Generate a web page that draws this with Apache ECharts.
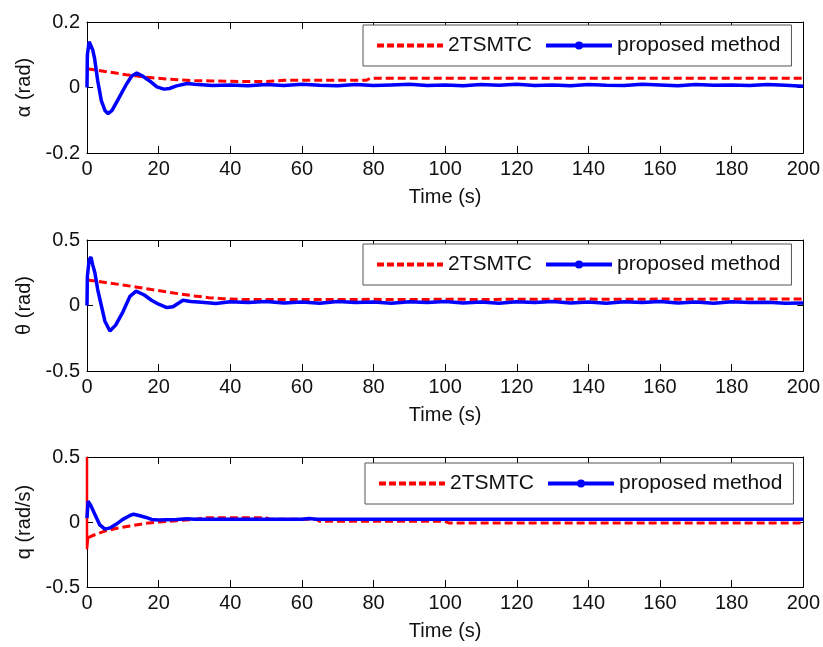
<!DOCTYPE html>
<html>
<head>
<meta charset="utf-8">
<script src="https://cdn.jsdelivr.net/npm/echarts@6/dist/echarts.min.js"></script>
<style>
html,body{margin:0;padding:0;background:#fff;}
#c{width:823px;height:647px;}
</style>
</head>
<body>
<div id="c"></div>
<script>
// ---- Data ----
var seriesNames = ['2TSMTC', 'proposed method'];
var xTicks = [0, 20, 40, 60, 80, 100, 120, 140, 160, 180, 200];

// alpha (rad)
var alphaRedT = [0, 2, 5, 8, 11, 14, 17, 20, 23, 26, 30, 35, 40, 45, 50, 53, 55, 60, 70, 78, 79, 90, 110, 130, 150, 170, 190, 200];
var alphaRedV = [0.057, 0.054, 0.049, 0.044, 0.039, 0.035, 0.031, 0.028, 0.025, 0.023, 0.021, 0.020, 0.019, 0.018, 0.018, 0.020, 0.022, 0.022, 0.022, 0.022, 0.028, 0.028, 0.028, 0.028, 0.028, 0.028, 0.028, 0.028];
var alphaBlueT = [0, 0.1, 0.6, 1.1, 1.6, 2.1, 3, 4, 5, 5.9, 7, 9, 11, 12.5, 13.9, 15.5, 17.5, 19.5, 21.5, 23, 25, 28, 30,
  35, 40, 45, 50, 55, 60, 65, 70, 75, 80, 85, 90, 95, 100, 105, 110, 115, 120, 125, 130, 135, 140, 145, 150, 155, 160, 165, 170, 175, 180, 185, 190, 195, 200];
var alphaBlueV = [0, 0.10, 0.14, 0.135, 0.115, 0.09, 0.02, -0.04, -0.07, -0.08, -0.07, -0.03, 0.01, 0.035, 0.044, 0.035, 0.02, 0.002, -0.005, -0.003, 0.005, 0.012, 0.010,
  0.006, 0.008, 0.005, 0.009, 0.006, 0.010, 0.007, 0.005, 0.009, 0.006, 0.008, 0.010, 0.006, 0.008, 0.005, 0.009, 0.007, 0.010, 0.006, 0.008, 0.005, 0.009, 0.007, 0.006, 0.010, 0.008, 0.005, 0.009, 0.007, 0.008, 0.006, 0.009, 0.007, 0.004];

// theta (rad)
var thetaRedT = [0, 3, 6, 10, 14, 18, 22, 26, 30, 34, 38, 42, 50, 60, 70, 80, 90, 100, 110, 120, 130, 140, 150, 160, 170, 180, 190, 200];
var thetaRedV = [0.195, 0.185, 0.172, 0.157, 0.140, 0.122, 0.105, 0.088, 0.073, 0.060, 0.052, 0.047, 0.045, 0.046, 0.045, 0.047, 0.045, 0.048, 0.046, 0.048, 0.047, 0.049, 0.047, 0.049, 0.048, 0.050, 0.049, 0.050];
var thetaBlueT = [0, 0.1, 0.6, 1.1, 1.6, 2.2, 3, 4, 5, 6.4, 8, 10, 12, 13.7, 16, 18, 20, 22.3, 24, 26.8, 29,
  32, 36, 40, 45, 50, 55, 60, 65, 70, 75, 80, 85, 90, 95, 100, 105, 110, 115, 120, 125, 130, 135, 140, 145, 150, 155, 160, 165, 170, 175, 180, 185, 190, 195, 200];
var thetaBlueV = [0, 0.22, 0.35, 0.37, 0.31, 0.25, 0.12, 0.0, -0.12, -0.195, -0.15, -0.05, 0.07, 0.11, 0.08, 0.04, 0.01, -0.016, -0.01, 0.04, 0.03,
  0.025, 0.015, 0.028, 0.022, 0.030, 0.020, 0.027, 0.018, 0.030, 0.022, 0.026, 0.018, 0.028, 0.022, 0.030, 0.020, 0.026, 0.018, 0.028, 0.022, 0.030, 0.020, 0.026, 0.018, 0.028, 0.022, 0.030, 0.020, 0.026, 0.018, 0.028, 0.022, 0.025, 0.018, 0.020];

// q (rad/s)
var qRedSpikeT = [0, 0, 0.3];
var qRedSpikeV = [0.5, -0.21, -0.12];
var qRedT = [0.3, 2, 5, 8, 12, 16, 20, 25, 30, 33, 50, 51, 64, 65, 100, 101, 200];
var qRedV = [-0.12, -0.10, -0.07, -0.05, -0.03, -0.012, 0.0, 0.01, 0.02, 0.032, 0.032, 0.022, 0.022, 0.005, 0.005, -0.007, -0.007];
var qBlueT = [0, 0.3, 1, 1.5, 2.5, 3.5, 5, 6.5, 8, 10, 12, 13, 14.5, 16.5, 18, 20, 22, 25, 28, 30, 40, 60, 62, 64, 100, 140, 200];
var qBlueV = [0.03, 0.16, 0.13, 0.10, 0.04, -0.02, -0.055, -0.045, -0.02, 0.02, 0.05, 0.06, 0.05, 0.035, 0.02, 0.015, 0.018, 0.02, 0.025, 0.021, 0.022, 0.022, 0.026, 0.022, 0.022, 0.022, 0.022];

function zip(t, v) { return t.map(function (x, i) { return [x, v[i]]; }); }

var FONT = "'Liberation Sans', Arial, Helvetica, sans-serif";
var gridTops = [22, 240, 457];
var gridHeights = [131, 131, 130];
var yNames = ['\u03b1 (rad)', '\u03b8 (rad)', 'q (rad/s)'];
var yLims = [[-0.2, 0.2, 0.2], [-0.5, 0.5, 0.5], [-0.5, 0.5, 0.5]];
var legendTops = [25, 244, 463];
var legendLefts = [363, 363, 365];
var dataSets = [
  [zip(alphaRedT, alphaRedV), zip(alphaBlueT, alphaBlueV)],
  [zip(thetaRedT, thetaRedV), zip(thetaBlueT, thetaBlueV)],
  [zip(qRedT, qRedV), zip(qBlueT, qBlueV)]
];

var grids = [], xAxes = [], yAxes = [], series = [], legends = [];
for (var k = 0; k < 3; k++) {
  grids.push({ left: 87, width: 717, top: gridTops[k], height: gridHeights[k], containLabel: false });
  var axLine = { show: true, onZero: false, lineStyle: { color: '#000', width: 1 } };
  xAxes.push({
    type: 'value', gridIndex: k, min: 0, max: 200, interval: 20, position: 'bottom',
    axisLine: axLine, axisTick: { inside: true, length: 7, lineStyle: { color: '#000' } },
    axisLabel: { fontSize: 20, color: '#111', fontFamily: FONT, margin: 6 },
    splitLine: { show: false },
    name: 'Time (s)', nameLocation: 'middle', nameGap: 34,
    nameTextStyle: { fontSize: 20, color: '#111', fontFamily: FONT }
  });
  xAxes.push({
    type: 'value', gridIndex: k, min: 0, max: 200, interval: 20, position: 'top',
    axisLine: axLine, axisTick: { inside: true, length: 7, lineStyle: { color: '#000' } },
    axisLabel: { show: false }, splitLine: { show: false }
  });
  yAxes.push({
    type: 'value', gridIndex: k, min: yLims[k][0], max: yLims[k][1], interval: yLims[k][2], position: 'left',
    axisLine: axLine, axisTick: { inside: true, length: 6, lineStyle: { color: '#000' } },
    axisLabel: { fontSize: 20, color: '#111', fontFamily: FONT, margin: 7 },
    splitLine: { show: false },
    name: yNames[k], nameLocation: 'middle', nameGap: 50,
    nameTextStyle: { fontSize: 20, color: '#111', fontFamily: FONT }
  });
  yAxes.push({
    type: 'value', gridIndex: k, min: yLims[k][0], max: yLims[k][1], interval: yLims[k][2], position: 'right',
    axisLine: axLine, axisTick: { inside: true, length: 6, lineStyle: { color: '#000' } },
    axisLabel: { show: false }, splitLine: { show: false }
  });
  series.push({
    name: seriesNames[0], type: 'line', xAxisIndex: 2 * k, yAxisIndex: 2 * k,
    data: dataSets[k][0], symbol: 'none', animation: false, z: 2,
    lineStyle: { color: '#ff0000', width: 3, type: [8, 4] }, itemStyle: { color: '#ff0000' }
  });
  series.push({
    name: seriesNames[1], type: 'line', xAxisIndex: 2 * k, yAxisIndex: 2 * k,
    data: dataSets[k][1], symbol: 'circle', symbolSize: 8, showSymbol: false, animation: false, z: 3,
    lineStyle: { color: '#0000ff', width: 3.5 }, itemStyle: { color: '#0000ff' }
  });
  legends.push({
    data: [
      { name: seriesNames[0], itemStyle: { opacity: 0 }, lineStyle: { width: 4, type: [7, 3], color: '#ff0000' } },
      { name: seriesNames[1], lineStyle: { width: 4, color: '#0000ff' } }
    ],
    left: legendLefts[k], top: legendTops[k], orient: 'horizontal',
    backgroundColor: '#fff', borderColor: '#555', borderWidth: 1,
    padding: [10, 11, 10, 12], itemGap: 12, itemWidth: 66, itemHeight: 10,
    textStyle: { fontSize: 21, color: '#111', fontFamily: FONT },
    selectedMode: false
  });
}
// solid initial spike of the 2TSMTC q response
series.push({
  name: seriesNames[0], type: 'line', xAxisIndex: 4, yAxisIndex: 4,
  data: zip(qRedSpikeT, qRedSpikeV), symbol: 'none', animation: false, z: 2,
  lineStyle: { color: '#ff0000', width: 2.5 }, itemStyle: { color: '#ff0000' }
});

var chart = echarts.init(document.getElementById('c'), null, { renderer: 'canvas' });
chart.setOption({
  backgroundColor: '#fff',
  animation: false,
  textStyle: { fontFamily: FONT },
  grid: grids, xAxis: xAxes, yAxis: yAxes, series: series, legend: legends
});
</script>
</body>
</html>
